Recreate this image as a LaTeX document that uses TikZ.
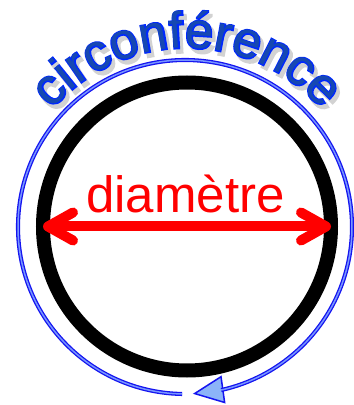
\documentclass[tikz,border=0pt]{standalone}
\usepackage{fontspec}
\setmainfont{Liberation Sans}
\newfontfamily\circout{Liberation Sans}[FakeBold=4.5]
\newfontfamily\circshadow{Liberation Sans}[FakeBold=6]
\usetikzlibrary{arrows.meta, decorations.text, bending}

\definecolor{circfill}{RGB}{22,72,178}
\definecolor{circline}{RGB}{0,40,255}
\definecolor{ringblue}{RGB}{20,20,240}
\definecolor{ringlight}{RGB}{120,150,255}
\definecolor{tipfill}{RGB}{140,180,248}
\definecolor{diamred}{RGB}{255,0,0}

\tikzset{
  ring/.style={draw=ringblue, line width=1.3pt, double=ringlight, double distance=1.5pt},
  diamarrow/.style={diamred, line width=10pt,
    {Straight Barb[length=25pt, width=28pt, round]}-{Straight Barb[length=25pt, width=28pt, round]}},
  circtext/.style={decorate, decoration={text along path, text align={fit to path}, text={#1}}}
}

\newcommand{\circsize}{\fontsize{51}{51}\selectfont}

\begin{document}
\begin{tikzpicture}[x=1pt, y=1pt]
  \useasboundingbox (0,0) rectangle (354,405);
  \coordinate (ringc) at (185,178);
  \coordinate (textc) at (187,178);

  % cercle noir
  \node[circle, draw, line width=14pt, minimum size=288pt, inner sep=0pt, outer sep=0pt] (cercle) at (187,178.5) {};
  \node[circle, fill, inner sep=0pt, minimum size=3.5pt] (centre) at (190,213) {};

  % diametre
  \draw[diamarrow] (cercle.west) -- (cercle.east);
  \node[font=\fontsize{51}{60}\selectfont, text=diamred, anchor=base, inner sep=0pt] (diam) at (185.5,192) {diamètre};

  % circonference : fleche bleue
  \draw[ringblue, line width=1pt, -{Triangle[length=31pt, width=28pt, fill=tipfill, line width=1.5pt]}]
    ([shift={(-62:167)}]ringc) arc[start angle=-62, end angle=-87.3, radius=167];
  \draw[ring] ([shift={(269:167)}]ringc) arc[start angle=269, end angle=-77.5, radius=167];

  % texte courbe (ombre, contour, remplissage)
  \path[circtext={|\circshadow\circsize\color{gray!35}|circonférence}]
    ([shift={(139:179)}, shift={(3,-4)}]textc) arc[start angle=139, end angle=42, radius=179];
  \path[circtext={|\circout\circsize\color{circline}|circonférence}]
    ([shift={(139:179)}]textc) arc[start angle=139, end angle=42, radius=179];
  \path[circtext={|\circsize\color{circfill}|circonférence}]
    ([shift={(139:179)}]textc) arc[start angle=139, end angle=42, radius=179];
\end{tikzpicture}
\end{document}
